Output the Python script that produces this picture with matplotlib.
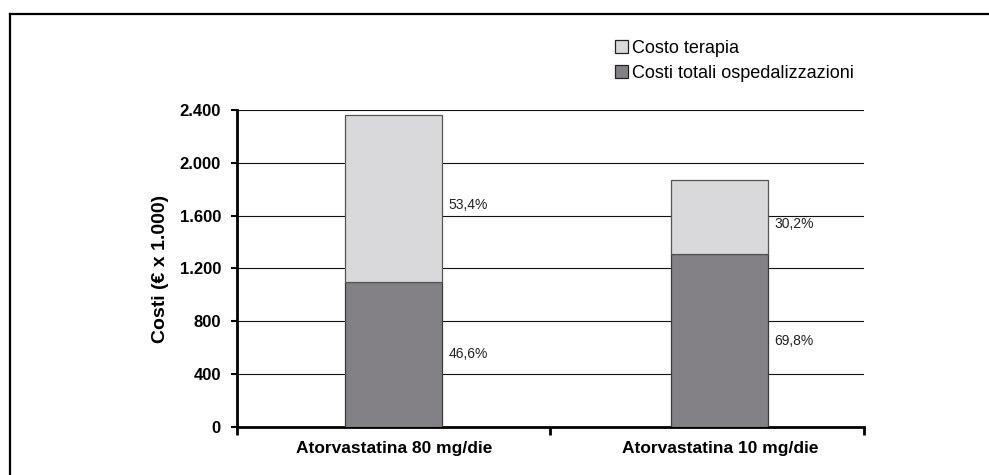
import numpy as np
import matplotlib
matplotlib.use("Agg")
from matplotlib import pyplot as plt
from matplotlib.lines import Line2D

plt.rcParams['font.family'] = ['Liberation Sans', 'DejaVu Sans']

# dati
categorie = ['Atorvastatina 80 mg/die', 'Atorvastatina 10 mg/die']
ospedalizzazioni = [1101, 1306]
terapia = [1263, 565]
perc_osp = ['46,6%', '69,8%']
perc_ter = ['53,4%', '30,2%']
yticks = [0, 400, 800, 1200, 1600, 2000, 2400]
ytick_labels = ['0', '400', '800', '1.200', '1.600', '2.000', '2.400']

col_ter = '#d9d9db'
col_osp = '#838186'

fig = plt.figure(figsize=(9.89, 4.75), dpi=100)
ax = fig.add_axes([0.2396, 0.1011, 0.634, 0.6674])

pos = [0.5, 1.54]
w = 0.31
ax.bar(pos, ospedalizzazioni, w, color=col_osp, edgecolor='#3a3a3a', linewidth=0.9,
       zorder=3, label='Costi totali ospedalizzazioni')
ax.bar(pos, terapia, w, bottom=ospedalizzazioni, color=col_ter, edgecolor='#555555',
       linewidth=0.9, zorder=3, label='Costo terapia')

for i in range(len(pos)):
    xt = pos[i] + w / 2 + 0.02
    ax.text(xt, ospedalizzazioni[i] / 2, perc_osp[i], fontsize=10, va='center', ha='left', color='#222222')
    # etichetta un po' sotto il centro, come nell'originale
    ax.text(xt, ospedalizzazioni[i] + terapia[i] / 2 - 50, perc_ter[i], fontsize=10, va='center', ha='left',
            color='#222222')

ax.set_xlim(0, 2)
ax.set_ylim(0, 2400)
ax.set_yticks(yticks)
ax.set_yticklabels(ytick_labels, fontweight='bold', fontsize=12)
ax.yaxis.grid(True, color='#111111', linewidth=0.8, zorder=0)
ax.set_axisbelow(True)

ax.set_xticks([0, 1, 2])
ax.set_xticklabels([])
ax.set_xticks(pos, minor=True)
ax.set_xticklabels(categorie, minor=True, fontweight='bold', fontsize=12.5)
ax.tick_params(axis='x', which='major', direction='out', length=5.5, width=2)
ax.tick_params(axis='x', which='minor', length=0, pad=10)
ax.tick_params(axis='y', direction='out', length=4.5, width=1.5, pad=7)

for s in ['top', 'right']:
    ax.spines[s].set_visible(False)
for s in ['left', 'bottom']:
    ax.spines[s].set_linewidth(2)
    ax.spines[s].set_color('black')

ax.set_ylabel('Costi (€ x 1.000)', fontweight='bold', fontsize=14, labelpad=8)

h, l = ax.get_legend_handles_labels()
leg = fig.legend(h[::-1], l[::-1], loc='upper left', bbox_to_anchor=(0.622, 0.916),
                 frameon=False, fontsize=13, handlelength=0.7, handleheight=0.7,
                 handletextpad=0.25, labelspacing=0.45, borderaxespad=0, borderpad=0)
for p in leg.get_patches():
    p.set_edgecolor('#222222')

# cornice
fig.add_artist(Line2D([10 / 989, 1], [1 - 14 / 475, 1 - 14 / 475], color='black', linewidth=1.6,
                      transform=fig.transFigure))
fig.add_artist(Line2D([10 / 989, 10 / 989], [0, 1 - 14 / 475], color='black', linewidth=1.6,
                      transform=fig.transFigure))

plt.savefig('out.png', dpi=100)
